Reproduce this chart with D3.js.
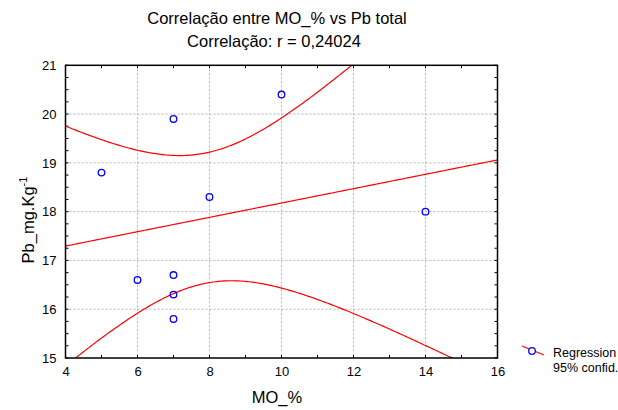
<!DOCTYPE html>
<html>
<head>
<meta charset="utf-8">
<script src="https://cdn.jsdelivr.net/npm/d3@7"></script>
<style>
  html, body { margin: 0; padding: 0; background: #fff; }
  svg { display: block; font-family: "Liberation Sans", Arial, sans-serif; }
</style>
</head>
<body>
<svg id="chart" width="618" height="410"></svg>
<script>
// Observations: organic matter (%) vs total lead (mg/kg)
const moPct = [5, 6, 7, 7, 7, 7, 8, 10, 14];
const pbTotal = [18.8, 16.6, 19.9, 16.7, 16.3, 15.8, 18.3, 20.4, 18.0];

const xTicks = [4, 6, 8, 10, 12, 14, 16];
const yTicks = [15, 16, 17, 18, 19, 20, 21];
const titleLines = ["Correlação entre MO_% vs Pb total", "Correlação: r = 0,24024"];
const legendLabels = ["Regression", "95% confid."];

const svg = d3.select("#chart");
const margin = { left: 65.5, right: 618 - 497.5, top: 65.3, bottom: 410 - 358 };
const W = 618, H = 410;

const x = d3.scaleLinear().domain([4, 16]).range([margin.left, W - margin.right]);
const y = d3.scaleLinear().domain([15, 21]).range([H - margin.bottom, margin.top]);

// Least-squares fit and 95% confidence band for the mean
const n = moPct.length;
const mx = d3.mean(moPct), my = d3.mean(pbTotal);
let sxx = 0, sxy = 0, syy = 0;
for (let i = 0; i < n; i++) {
  const dx = moPct[i] - mx, dy = pbTotal[i] - my;
  sxx += dx * dx; sxy += dx * dy; syy += dy * dy;
}
const slope = sxy / sxx;
const intercept = my - slope * mx;
const se = Math.sqrt((syy - slope * sxy) / (n - 2));
const tCrit = 2.364624; // t(0.975, df = 7)
const fit = v => intercept + slope * v;
const half = v => tCrit * se * Math.sqrt(1 / n + (v - mx) * (v - mx) / sxx);

// clip region for the plot
svg.append("defs").append("clipPath").attr("id", "plotClip")
  .append("rect")
  .attr("x", x(4)).attr("y", y(21))
  .attr("width", x(16) - x(4)).attr("height", y(15) - y(21));

// grid
const grid = svg.append("g").attr("stroke", "#b4b4b4").attr("stroke-width", 1)
  .attr("stroke-dasharray", "2,2");
xTicks.slice(1, -1).forEach(t => {
  grid.append("line").attr("x1", x(t)).attr("x2", x(t)).attr("y1", y(21)).attr("y2", y(15));
});
yTicks.slice(1, -1).forEach(t => {
  grid.append("line").attr("x1", x(4)).attr("x2", x(16)).attr("y1", y(t)).attr("y2", y(t));
});

// axes (major labels outside, minor tick marks inside)
const tickFont = 13;
const xAxis = d3.axisBottom(x).tickValues(xTicks).tickSize(0).tickPadding(9)
  .tickFormat(d3.format("d"));
svg.append("g").attr("transform", `translate(0,${y(15)})`).call(xAxis)
  .call(g => g.select(".domain").remove())
  .selectAll("text").attr("font-size", tickFont).attr("fill", "#000")
  .attr("font-family", "Liberation Sans, Arial, sans-serif");

const yAxis = d3.axisLeft(y).tickValues(yTicks).tickSize(0).tickPadding(9)
  .tickFormat(d3.format("d"));
svg.append("g").attr("transform", `translate(${x(4)},0)`).call(yAxis)
  .call(g => g.select(".domain").remove())
  .selectAll("text").attr("font-size", tickFont).attr("fill", "#000")
  .attr("font-family", "Liberation Sans, Arial, sans-serif");

// inward tick marks on all four sides
const ticks = svg.append("g").attr("stroke", "#000").attr("stroke-width", 1);
d3.range(4, 16.01, 1).forEach(v => {
  ticks.append("line").attr("x1", x(v)).attr("x2", x(v)).attr("y1", y(15)).attr("y2", y(15) - 3);
  ticks.append("line").attr("x1", x(v)).attr("x2", x(v)).attr("y1", y(21)).attr("y2", y(21) + 3);
});
d3.range(15, 21.01, 0.25).forEach(v => {
  ticks.append("line").attr("x1", x(4)).attr("x2", x(4) + 3).attr("y1", y(v)).attr("y2", y(v));
  ticks.append("line").attr("x1", x(16)).attr("x2", x(16) - 3).attr("y1", y(v)).attr("y2", y(v));
});

// regression line and confidence curves
const xs = d3.range(4, 16.001, 0.05);
const plot = svg.append("g").attr("clip-path", "url(#plotClip)");
const line = d3.line().x(d => x(d[0])).y(d => y(d[1])).curve(d3.curveLinear);
[fit, v => fit(v) + half(v), v => fit(v) - half(v)].forEach(f => {
  plot.append("path")
    .attr("d", line(xs.map(v => [v, f(v)])))
    .attr("fill", "none").attr("stroke", "#ff0000").attr("stroke-width", 1.2);
});

// points
svg.append("g").selectAll("circle").data(moPct.map((v, i) => [v, pbTotal[i]]))
  .join("circle")
  .attr("cx", d => x(d[0])).attr("cy", d => y(d[1])).attr("r", 3.3)
  .attr("fill", "none").attr("stroke", "#0000ff").attr("stroke-width", 1.3);

// frame
svg.append("rect")
  .attr("x", x(4)).attr("y", y(21))
  .attr("width", x(16) - x(4)).attr("height", y(15) - y(21))
  .attr("fill", "none").attr("stroke", "#000").attr("stroke-width", 1.5);

// titles
svg.append("text").attr("x", 277).attr("y", 24).attr("text-anchor", "middle")
  .attr("font-size", 16.5).text(titleLines[0]);
svg.append("text").attr("x", 274).attr("y", 47).attr("text-anchor", "middle")
  .attr("font-size", 16.5).text(titleLines[1]);

// axis titles
svg.append("text").attr("x", 277).attr("y", 403).attr("text-anchor", "middle")
  .attr("font-size", 16.5).text("MO_%");
const yl = svg.append("text").attr("transform", "translate(34,220) rotate(-90)")
  .attr("text-anchor", "middle").attr("font-size", 16.5);
yl.append("tspan").text("Pb_mg.Kg");
yl.append("tspan").attr("dy", -7).attr("font-size", 11).text("-1");

// legend
const lg = svg.append("g");
lg.append("line").attr("x1", 522).attr("y1", 346).attr("x2", 544).attr("y2", 355)
  .attr("stroke", "#ff0000").attr("stroke-width", 1.2);
lg.append("circle").attr("cx", 532).attr("cy", 351).attr("r", 3.3)
  .attr("fill", "#fff").attr("stroke", "#0000ff").attr("stroke-width", 1.3);
lg.append("text").attr("x", 553).attr("y", 357).attr("font-size", 12.5).text(legendLabels[0]);
lg.append("text").attr("x", 553).attr("y", 372).attr("font-size", 12.5).text(legendLabels[1]);
</script>
</body>
</html>
